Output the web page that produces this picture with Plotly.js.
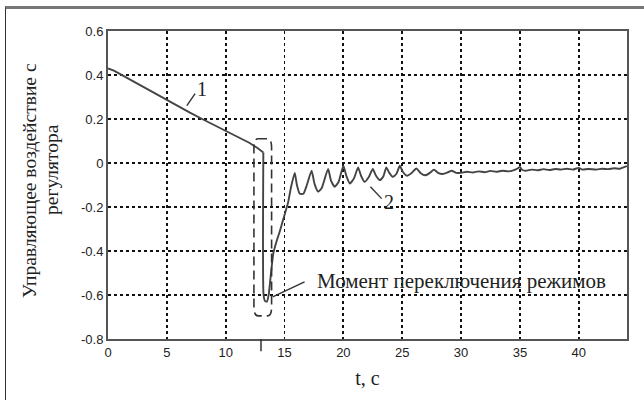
<!DOCTYPE html>
<html><head><meta charset="utf-8">
<script src="https://cdn.plot.ly/plotly-3.0.1.min.js"></script>
<style>
html,body{margin:0;padding:0;background:#fff;}
#wrap{position:relative;width:644px;height:400px;}
#chart{width:644px;height:400px;}
#frame{position:absolute;left:5px;top:6px;width:650px;height:410px;border-top:3px solid #777;border-left:1.5px solid #333;pointer-events:none;}
</style></head>
<body><div id="wrap"><div id="chart"></div><div id="frame"></div></div>
<script>
// Curve 1 (before switching)
const t1 = [0, 0.5, 1, 2, 3, 4, 5, 6, 7, 8, 9, 10, 11, 12, 12.7, 13.0, 13.2];
const u1 = [0.43, 0.42, 0.405, 0.375, 0.345, 0.315, 0.285, 0.256, 0.228, 0.2, 0.173, 0.147, 0.12, 0.092, 0.068, 0.058, 0.048];
// Curve 2 (after switching)
const t2 = [13.2, 13.22, 13.35, 13.5, 13.65, 13.85, 14.05, 14.3, 14.6, 14.95, 15.3, 15.55, 15.87, 16.05, 16.3, 16.6, 16.9, 17.3, 17.55, 17.85, 18.15, 18.7, 18.95, 19.27, 19.6, 20.0, 20.25, 20.55, 20.9, 21.25, 21.5, 21.8, 22.15, 22.5, 22.75, 23.1, 23.4, 23.65, 23.9, 24.2, 24.5, 24.8, 25.05, 25.4, 25.8, 26.2, 26.55, 26.95, 27.35, 27.7, 28.05, 28.45, 28.85, 29.2, 29.6, 30.0, 30.5, 31.0, 31.5, 32.0, 32.5, 33.0, 33.5, 34.0, 34.5, 34.8, 35.0, 35.2, 35.5, 36.0, 36.5, 37.0, 37.5, 38.0, 38.5, 39.0, 39.5, 40.0, 40.3, 40.8, 41.5, 42.0, 42.5, 43.0, 43.5, 43.8, 44.1];
const u2 = [0.048, -0.6, -0.628, -0.63, -0.6, -0.5, -0.41, -0.36, -0.31, -0.245, -0.18, -0.11, -0.045, -0.1, -0.14, -0.14, -0.1, -0.035, -0.095, -0.13, -0.115, -0.027, -0.08, -0.108, -0.085, -0.012, -0.058, -0.093, -0.07, -0.02, -0.058, -0.086, -0.065, -0.027, -0.056, -0.078, -0.06, -0.02, -0.045, -0.063, -0.05, -0.012, -0.04, -0.058, -0.045, -0.025, -0.045, -0.056, -0.045, -0.03, -0.045, -0.05, -0.043, -0.035, -0.045, -0.044, -0.04, -0.043, -0.038, -0.042, -0.036, -0.04, -0.035, -0.038, -0.032, -0.025, -0.018, -0.032, -0.035, -0.03, -0.033, -0.028, -0.032, -0.027, -0.03, -0.026, -0.03, -0.022, -0.03, -0.027, -0.03, -0.026, -0.028, -0.024, -0.026, -0.02, -0.014];

const xTicks = [0, 5, 10, 15, 20, 25, 30, 35, 40];
const yTicks = [-0.8, -0.6, -0.4, -0.2, 0, 0.2, 0.4, 0.6];
const yTickText = ['-0.8', '-0.6', '-0.4', '-0.2', '0', '0.2', '0.4', '0.6'];

const switchT = 13.0;
const boxX = [12.4, 13.9];
const boxY = [-0.695, 0.11];

const lineColor = '#444';
const serif = 'Liberation Serif, Times New Roman, serif';
const tickFont = {family: 'Liberation Sans Narrow, Liberation Sans, Arial, sans-serif', size: 13, color: '#222'};

const traces = [
  {x: t1, y: u1, mode: 'lines', line: {color: lineColor, width: 1.9}, hoverinfo: 'skip'},
  {x: t2, y: u2, mode: 'lines', line: {color: lineColor, width: 1.9, shape: 'spline', smoothing: 0.5}, hoverinfo: 'skip'}
];

function roundRect(x0, x1, y0, y1, rx, ry) {
  return `M ${x0+rx},${y1} L ${x1-rx},${y1} Q ${x1},${y1} ${x1},${y1-ry} L ${x1},${y0+ry} Q ${x1},${y0} ${x1-rx},${y0} L ${x0+rx},${y0} Q ${x0},${y0} ${x0},${y0+ry} L ${x0},${y1-ry} Q ${x0},${y1} ${x0+rx},${y1} Z`;
}

const layout = {
  width: 644, height: 400,
  margin: {l: 108, r: 17, t: 31, b: 61},
  paper_bgcolor: '#fff', plot_bgcolor: '#fff',
  showlegend: false,
  xaxis: {
    range: [0, 44.1], tickvals: xTicks, ticktext: xTicks.map(String),
    showgrid: true, gridcolor: '#111', griddash: 'dot', gridwidth: 1.8,
    showline: true, linecolor: '#555', linewidth: 2, mirror: true,
    zeroline: false, ticks: '', tickfont: tickFont, ticklen: 0,
    title: {text: 't, c', font: {family: serif, size: 20, color: '#222'}, standoff: 12}
  },
  yaxis: {
    range: [-0.8, 0.6], tickvals: yTicks, ticktext: yTickText,
    showgrid: true, gridcolor: '#111', griddash: 'dot', gridwidth: 1.8,
    showline: true, linecolor: '#555', linewidth: 2, mirror: true,
    zeroline: false, ticks: '', tickfont: tickFont
  },
  shapes: [
    {type: 'path', xref: 'x', yref: 'y', path: roundRect(boxX[0], boxX[1], boxY[0], boxY[1], 0.35, 0.04),
     line: {color: '#333', width: 1.6, dash: '9px,5px'}},
    {type: 'line', xref: 'x', yref: 'paper', x0: switchT, x1: switchT, y0: 0, y1: -0.04,
     line: {color: '#333', width: 1.5}},
    {type: 'line', xref: 'x', yref: 'y', x0: 14.0, y0: -0.608, x1: 16.7, y1: -0.54, line: {color: '#333', width: 1.4}},
    {type: 'line', xref: 'x', yref: 'y', x0: 6.7, y0: 0.261, x1: 7.4, y1: 0.315, line: {color: '#333', width: 1.4}},
    {type: 'line', xref: 'x', yref: 'y', x0: 22.3, y0: -0.108, x1: 23.25, y1: -0.162, line: {color: '#333', width: 1.4}}
  ],
  annotations: [
    {xref: 'paper', yref: 'paper', x: (29-108)/519, y: (339-181)/308, text: 'Управляющее воздействие с',
     textangle: -90, showarrow: false, xanchor: 'center', yanchor: 'middle', font: {family: serif, size: 19.5, color: '#222'}},
    {xref: 'paper', yref: 'paper', x: (51-108)/519, y: (339-170)/308, text: 'регулятора',
     textangle: -90, showarrow: false, xanchor: 'center', yanchor: 'middle', font: {family: serif, size: 19.5, color: '#222'}},
    {xref: 'x', yref: 'y', x: 17.6, y: -0.535, text: 'Момент переключения режимов', showarrow: false,
     xanchor: 'left', yanchor: 'middle', font: {family: serif, size: 21, color: '#222'}},
    {xref: 'x', yref: 'y', x: 7.4, y: 0.335, text: '1', showarrow: false, xanchor: 'left', yanchor: 'middle',
     font: {family: serif, size: 20, color: '#222'}},
    {xref: 'x', yref: 'y', x: 23.25, y: -0.175, text: '2', showarrow: false, xanchor: 'left', yanchor: 'middle',
     font: {family: serif, size: 20, color: '#222'}}
  ]
};

Plotly.newPlot('chart', traces, layout, {staticPlot: true, displayModeBar: false});
</script>
</body></html>
